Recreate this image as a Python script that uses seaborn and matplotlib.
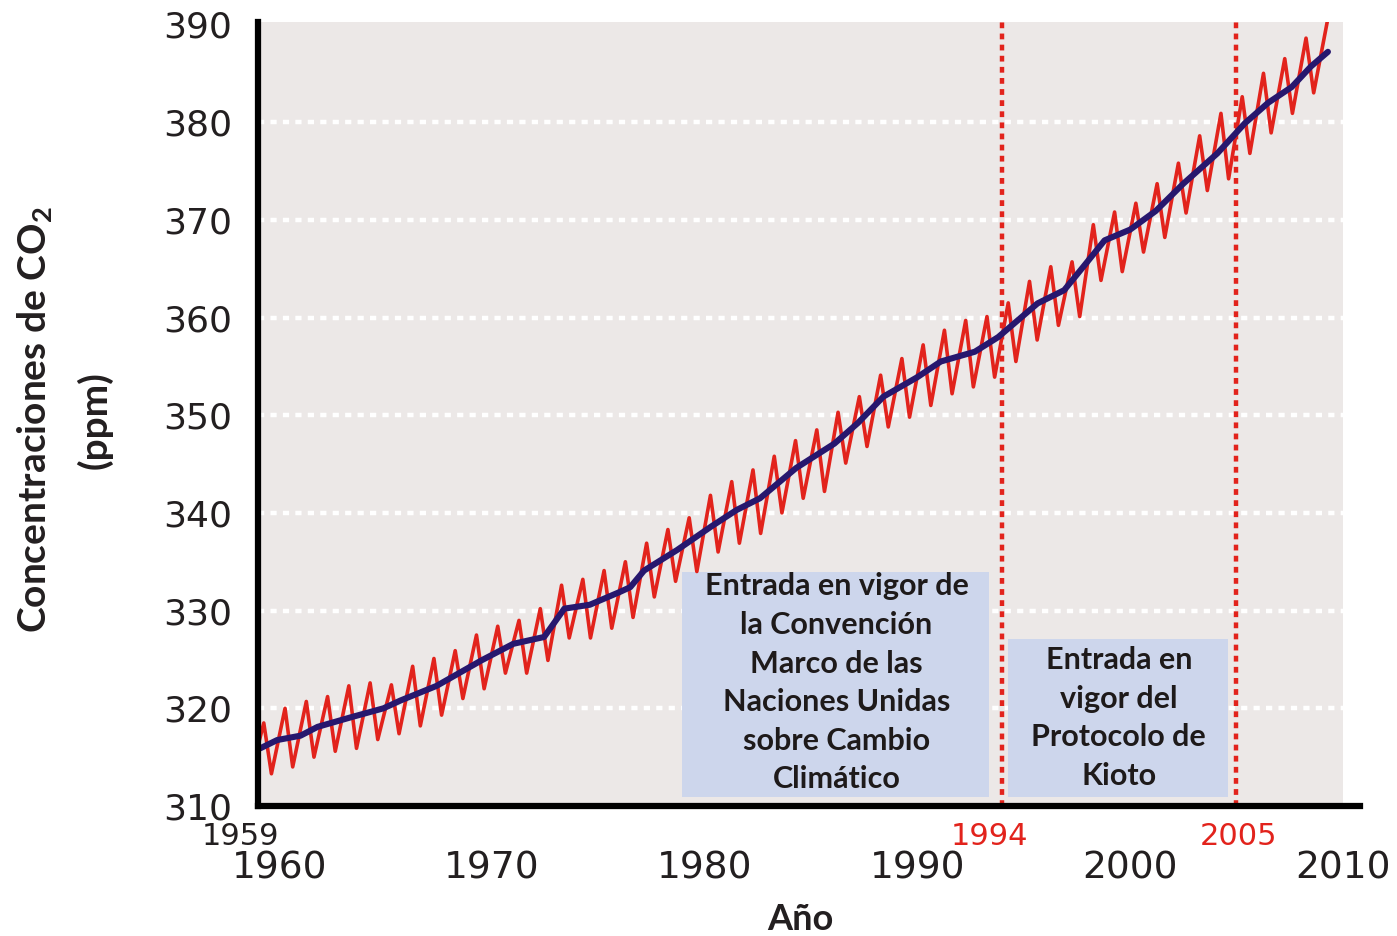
import matplotlib
matplotlib.use("Agg")
import matplotlib.pyplot as plt
import seaborn as sns
import pandas as pd
from matplotlib.patches import Rectangle

# ---------------- data ----------------
years = list(range(1959, 2010))
peak_ppm = [318.5, 320.0, 320.7, 321.2, 322.3, 322.6, 322.4, 324.3, 325.1, 325.9,
            327.5, 328.4, 329.0, 330.2, 332.6, 333.2, 334.1, 335.0, 336.9, 338.3,
            339.5, 341.8, 343.2, 344.4, 345.8, 347.4, 348.5, 350.3, 351.9, 354.1,
            355.8, 357.2, 358.7, 359.7, 360.1, 361.5, 363.7, 365.2, 365.7, 369.5,
            370.8, 371.7, 373.7, 375.8, 378.6, 380.9, 382.6, 385.0, 386.5, 388.6,
            390.3]
trough_ppm = [313.3, 314.0, 315.0, 315.6, 315.9, 316.8, 317.4, 318.2, 319.3, 321.0,
              322.0, 323.6, 323.6, 324.9, 327.2, 327.2, 328.2, 329.3, 331.4, 333.0,
              334.0, 336.0, 336.9, 337.9, 340.0, 341.5, 342.2, 345.1, 346.8, 348.8,
              349.8, 351.0, 352.2, 352.9, 353.9, 355.5, 357.7, 359.2, 360.1, 363.8,
              364.7, 366.7, 368.2, 370.7, 373.0, 374.2, 376.8, 378.9, 380.9, 383.0]
red_start_year = 1959.05
red_start_ppm = 316.6

trend_year = [1959.1, 1959.9, 1961.0, 1961.8, 1963.4, 1964.9, 1965.7, 1967.4, 1969.5,
              1971.0, 1972.45, 1973.4, 1974.6, 1976.0, 1976.5, 1977.15, 1978.7, 1980.3,
              1981.5, 1982.6, 1984.3, 1986.1, 1987.2, 1988.4, 1990.0, 1991.1, 1992.7,
              1993.8, 1995.65, 1996.9, 1997.8, 1998.8, 2000.0, 2001.2, 2002.5, 2004.1,
              2005.4, 2006.5, 2007.6, 2008.5, 2009.3]
trend_ppm = [315.9, 316.75, 317.2, 318.1, 319.1, 320.0, 320.8, 322.3, 324.9,
             326.6, 327.3, 330.2, 330.6, 331.9, 332.4, 334.1, 336.2, 338.6,
             340.3, 341.5, 344.6, 347.1, 349.2, 351.9, 353.9, 355.5, 356.5,
             358.0, 361.45, 362.8, 365.2, 367.9, 369.0, 370.9, 373.7, 376.8,
             379.9, 382.0, 383.6, 385.7, 387.2]

y_ticks = [310, 320, 330, 340, 350, 360, 370, 380, 390]
grid_levels = [320, 330, 340, 350, 360, 370, 380]
x_major = [1960, 1970, 1980, 1990, 2000, 2010]
x_major_labels = ["1960", "1970", "1980", "1990", "2000", "2010"]
x_minor = [1965, 1975, 1985, 1995, 2005]
event_years = [1994, 2005]
event_labels = ["1994", "2005"]
box_texts = ["Entrada en vigor de\nla Convención\nMarco de las\nNaciones Unidas\nsobre Cambio\nClimático",
             "Entrada en\nvigor del\nProtocolo de\nKioto"]

# ---------------- style ----------------
sns.set_style("white")
plt.rcParams['font.family'] = ['DejaVu Sans']
plt.rcParams['mathtext.fontset'] = 'custom'
plt.rcParams['mathtext.rm'] = 'Lato'
plt.rcParams['mathtext.bf'] = 'Lato:bold'

RED = "#e2231c"
NAVY = "#27176e"
GREY = "#ece8e7"
BOXC = "#cdd6ec"
INK = "#231f20"

# red seasonal trace (peaks and troughs)
rx, ry = [red_start_year], [red_start_ppm]
for i, yr in enumerate(years):
    rx.append(yr + 0.27); ry.append(peak_ppm[i])
    if i < len(trough_ppm):
        rx.append(yr + 0.63); ry.append(trough_ppm[i])
red_df = pd.DataFrame({"year": rx, "ppm": ry})
trend_df = pd.DataFrame({"year": trend_year, "ppm": trend_ppm})

fig = plt.figure(figsize=(13.97, 9.36), dpi=100)
ax = fig.add_axes([0.1847, 0.1389, 0.7887, 0.8381])
ax.set_xlim(1959, 2010.8)
ax.set_ylim(310, 390.3)
ax.set_facecolor("white")

ax.axvspan(1959, 2010, color=GREY, zorder=0, lw=0)
ax.hlines(grid_levels, 1959, 2010, colors="white", lw=3.2,
          linestyles=(0, (1.4, 1.4)), zorder=1)

ax.add_patch(Rectangle((1978.92, 310.9), 1993.36 - 1978.92, 333.95 - 310.9,
                       facecolor=BOXC, edgecolor="none", zorder=2))
ax.add_patch(Rectangle((1994.25, 310.9), 2004.6 - 1994.25, 327.1 - 310.9,
                       facecolor=BOXC, edgecolor="none", zorder=2))

ax.vlines(event_years, 310, 390.3, colors=RED, lw=3.2,
          linestyles=(0, (1.3, 1.2)), zorder=3)

sns.lineplot(data=red_df, x="year", y="ppm", ax=ax, color=RED, lw=2.6,
             sort=False, zorder=4)
sns.lineplot(data=trend_df, x="year", y="ppm", ax=ax, color=NAVY, lw=4.4,
             sort=False, zorder=5)

ax.text(1986.2, 322.6, box_texts[0], ha="center", va="center", fontsize=22,
        fontweight="bold", family="Lato", linespacing=1.46, color="#1e1a1a", zorder=6)
ax.text(1999.47, 319.0, box_texts[1], ha="center", va="center", fontsize=22,
        fontweight="bold", family="Lato", linespacing=1.46, color="#1e1a1a", zorder=6)

# spines and ticks
for s in ["top", "right"]:
    ax.spines[s].set_visible(False)
for s in ["left", "bottom"]:
    ax.spines[s].set_linewidth(4.5)
    ax.spines[s].set_color("black")
    ax.spines[s].set_zorder(7)

ax.set_yticks(y_ticks, labels=[str(v) for v in y_ticks])
ax.set_xticks([1959] + x_major, labels=[""] + x_major_labels)
ax.set_xticks(x_minor, minor=True)
ax.tick_params(axis="y", length=13, width=3.6, direction="out", pad=5.5,
               labelsize=26, labelcolor=INK)
ax.tick_params(axis="x", which="major", length=12, width=3.6, direction="out",
               pad=20, labelsize=27, labelcolor=INK)
ax.tick_params(axis="x", which="minor", length=6, width=3.6, direction="out")

ax.text(1960, 306.0, "1959", ha="right", va="baseline", fontsize=22, color=INK)
for yr, lab, xc in zip(event_years, event_labels, [1993.38, 2005.09]):
    ax.text(xc, 306.0, lab, ha="center", va="baseline", fontsize=22, color=RED)

ax.set_xlabel("Año", fontsize=26, fontweight="bold", family="Lato", color=INK)
ax.xaxis.set_label_coords(0.492, -0.1236)
ax.set_ylabel("Concentraciones de CO$_\\mathbf{2}$\n(ppm)", fontsize=28,
              fontweight="bold", family="Lato", linespacing=1.71, color=INK)
ax.yaxis.set_label_coords(-0.1316, 0.492)

fig.savefig("out.png", dpi=100)
